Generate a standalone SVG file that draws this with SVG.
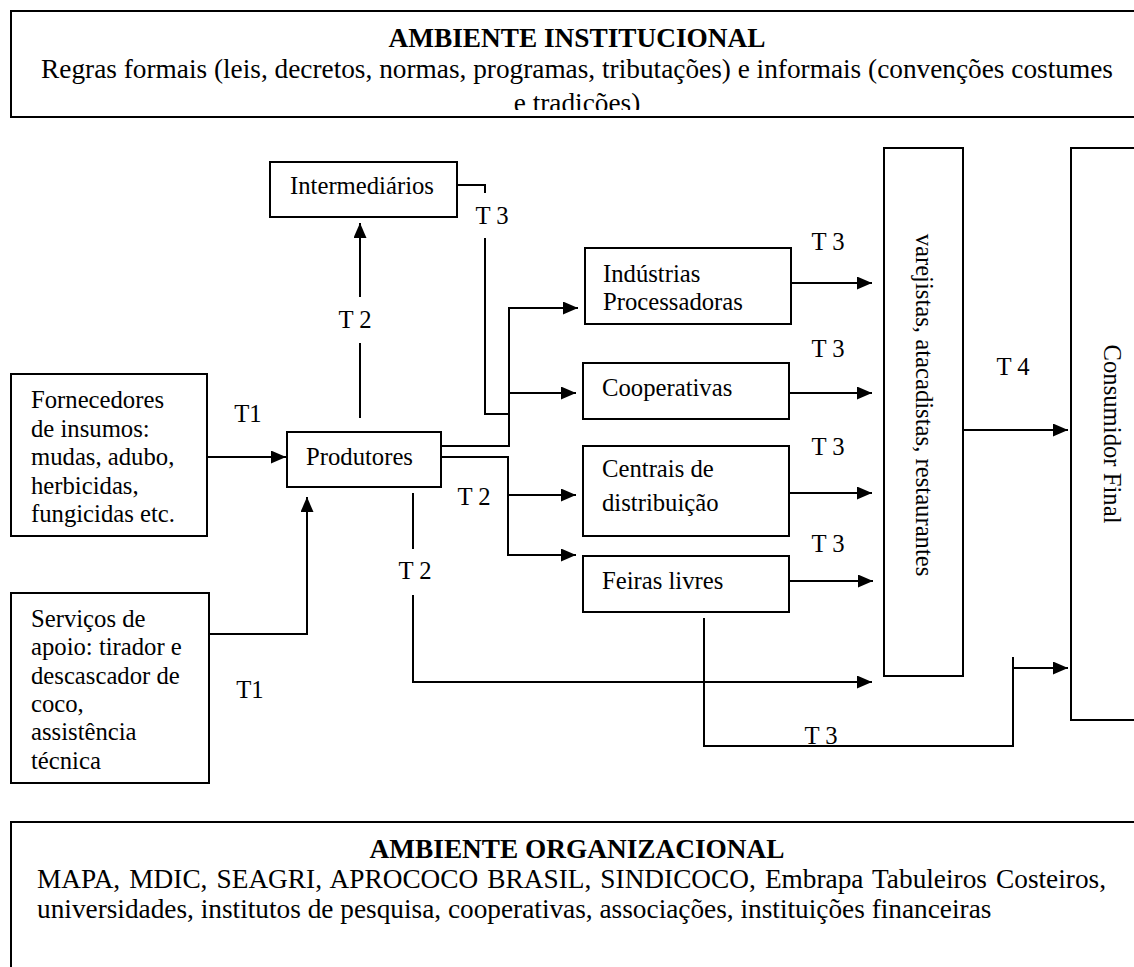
<svg xmlns="http://www.w3.org/2000/svg" width="1134" height="967" viewBox="0 0 1134 967">
<style>
.box{fill:#fff;stroke:#000;stroke-width:2}
.t{font-family:"Liberation Serif","Times New Roman",serif;font-size:24.7px;fill:#000}
.big{font-family:"Liberation Serif","Times New Roman",serif;font-size:27.3px;fill:#000}
.b{font-weight:bold}
.c{text-anchor:middle}
.ln{fill:none;stroke:#000;stroke-width:2}
.ar{marker-end:url(#ah)}
</style>
<defs>
<marker id="ah" markerUnits="userSpaceOnUse" markerWidth="15" markerHeight="13" refX="15" refY="6.5" orient="auto">
<path d="M0,0 L15,6.5 L0,13 z" fill="#000"/>
</marker>
<clipPath id="clipTop"><rect x="0" y="0" width="1134" height="110"/></clipPath>
</defs>
<rect width="1134" height="967" fill="#fff"/>

<g id="ambiente-institucional">
<rect class="box" x="11" y="11" width="1140" height="106"/>
<text class="big b c" x="577" y="47">AMBIENTE INSTITUCIONAL</text>
<text class="big c" x="577" y="78">Regras formais (leis, decretos, normas, programas, tributações) e informais (convenções costumes</text>
<text class="big c" x="577" y="112" clip-path="url(#clipTop)">e tradições)</text>
</g>

<g id="intermediarios">
<rect class="box" x="270" y="162" width="187" height="55"/>
<text class="t" x="290" y="194">Intermediários</text>
</g>

<g id="fornecedores">
<rect class="box" x="11" y="374" width="196" height="162"/>
<text class="t" x="31" y="408">Fornecedores</text>
<text class="t" x="31" y="436.5">de insumos:</text>
<text class="t" x="31" y="465">mudas, adubo,</text>
<text class="t" x="31" y="493.5">herbicidas,</text>
<text class="t" x="31" y="522">fungicidas etc.</text>
</g>

<g id="servicos">
<rect class="box" x="11" y="593" width="198" height="190"/>
<text class="t" x="31" y="627">Serviços de</text>
<text class="t" x="31" y="655">apoio: tirador e</text>
<text class="t" x="31" y="683.5">descascador de</text>
<text class="t" x="31" y="712">coco,</text>
<text class="t" x="31" y="740">assistência</text>
<text class="t" x="31" y="768.5">técnica</text>
</g>

<g id="produtores">
<rect class="box" x="287" y="432" width="154" height="55"/>
<text class="t" x="306" y="465">Produtores</text>
</g>

<g id="industrias">
<rect class="box" x="585" y="248" width="206" height="76"/>
<text class="t" x="603" y="282">Indústrias</text>
<text class="t" x="603" y="310">Processadoras</text>
</g>

<g id="cooperativas">
<rect class="box" x="583" y="363" width="206" height="56"/>
<text class="t" x="602" y="396">Cooperativas</text>
</g>

<g id="centrais">
<rect class="box" x="583" y="446" width="206" height="90"/>
<text class="t" x="602" y="477">Centrais de</text>
<text class="t" x="602" y="511">distribuição</text>
</g>

<g id="feiras">
<rect class="box" x="583" y="556" width="206" height="56"/>
<text class="t" x="602" y="589">Feiras livres</text>
</g>

<g id="varejistas">
<rect class="box" x="884" y="148" width="79" height="528"/>
<text class="t c" transform="translate(916,405) rotate(90)">varejistas, atacadistas, restaurantes</text>
</g>

<g id="consumidor">
<rect class="box" x="1071" y="148" width="80" height="572"/>
<text class="t c" transform="translate(1104,434) rotate(90)">Consumidor Final</text>
</g>

<g id="ambiente-organizacional">
<rect class="box" x="11" y="822" width="1140" height="160"/>
<text class="big b c" x="577" y="858">AMBIENTE ORGANIZACIONAL</text>
<text class="big" x="37" y="888" word-spacing="2.3">MAPA, MDIC, SEAGRI, APROCOCO BRASIL, SINDICOCO, Embrapa Tabuleiros Costeiros,</text>
<text class="big" x="37" y="918">universidades, institutos de pesquisa, cooperativas, associações, instituições financeiras</text>
</g>

<g id="connectors">
<path class="ln ar" d="M207,457 H286"/>
<path class="ln ar" d="M209,634 H307 V497"/>
<path class="ln" d="M360,418 V343"/>
<path class="ln ar" d="M360,297 V223"/>
<path class="ln" d="M457,185 H485 V193"/>
<path class="ln" d="M485,238 V414 H509"/>
<path class="ln ar" d="M441,446 H509 V308 H578"/>
<path class="ln ar" d="M509,393 H576"/>
<path class="ln ar" d="M441,457 H508 V555 H576"/>
<path class="ln ar" d="M508,495 H576"/>
<path class="ln" d="M413,493 V549"/>
<path class="ln ar" d="M413,595 V682 H872"/>
<path class="ln ar" d="M791,283 H872"/>
<path class="ln ar" d="M789,393 H872"/>
<path class="ln ar" d="M789,493 H872"/>
<path class="ln ar" d="M789,581 H873"/>
<path class="ln ar" d="M963,430 H1068"/>
<path class="ln" d="M704,618 V746 H1013 V657"/>
<path class="ln ar" d="M1013,668 H1068"/>
<text class="t c" x="248" y="422">T1</text>
<text class="t c" x="250" y="698">T1</text>
<text class="t c" x="355" y="328">T 2</text>
<text class="t c" x="474" y="505">T 2</text>
<text class="t c" x="415" y="579">T 2</text>
<text class="t c" x="492" y="224">T 3</text>
<text class="t c" x="828" y="250">T 3</text>
<text class="t c" x="828" y="357">T 3</text>
<text class="t c" x="828" y="455">T 3</text>
<text class="t c" x="828" y="552">T 3</text>
<text class="t c" x="821" y="744">T 3</text>
<text class="t c" x="1013" y="375">T 4</text>
</g>
</svg>
